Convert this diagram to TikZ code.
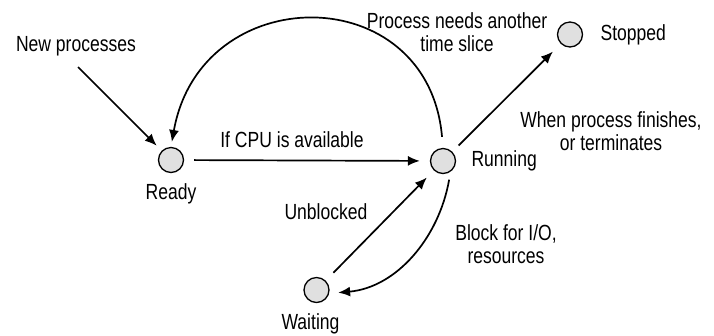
\documentclass[tikz,border=0pt]{standalone}
\usepackage{fontspec}
\setmainfont{Liberation Sans}[FakeStretch=0.8]
\usetikzlibrary{arrows.meta,positioning}
\tikzset{%
    >={Latex[width=5pt,length=6pt]},
    state/.style = {
        circle, draw=black, fill=black!12, minimum size=12.5bp,
        inner sep=0pt, line width=0.65bp
    },
    caption/.style = {font=\fontsize{11}{11.8}\selectfont, align=center, inner sep=2bp},
    link/.style = {->, line width=0.85bp},
}

\begin{document}
\begin{tikzpicture}[x=0.5bp, y=0.5bp]
    \useasboundingbox (0,0) rectangle (714,-335);

    % States
    \node (ready)   [state] at (171,-160)   {};
    \node (running) [state] at (443,-161)   {};
    \node (stopped) [state] at (570,-34.5)  {};
    \node (waiting) [state] at (316.5,-290) {};

    % State names
    \node (readyLbl)   [caption, below=3bp of ready]   {Ready};
    \node (runningLbl) [caption, right=5.5bp of running] {Running};
    \node (stoppedLbl) [caption, right=6.5bp of stopped] {Stopped};
    \node (waitingLbl) [caption, below=3bp of waiting, xshift=-3bp] {Waiting};

    % Transition texts
    \node (newLbl)     [caption] at (76,-46)   {New processes};
    \node (cpuLbl)     [caption] at (292,-140) {If CPU is available};
    \node (sliceLbl)   [caption] at (457,-32)  {Process needs another\\time slice};
    \node (finishLbl)  [caption] at (611,-131) {When process finishes,\\or terminates};
    \node (blockLbl)   [caption] at (506,-244) {Block for I/O,\\resources};
    \node (unblockLbl) [caption] at (326,-212) {Unblocked};

    \coordinate (newTail) at (78,-67);

    % Arrow specification
    \draw[link, shorten >=3.5bp]               (newTail) -- (ready);
    \draw[link, shorten <=5bp, shorten >=5bp]   (ready) -- (running);
    \draw[link, shorten <=4.4bp, shorten >=5.5bp] (running) -- (stopped);
    \draw[link, shorten <=5.5bp, shorten >=5bp] (waiting) -- (running);
    \draw[link, shorten <=5.5bp, shorten >=2.5bp]
        (running.north) to[out=95, in=80, looseness=1.6] (ready.north);
    \draw[link, shorten <=4bp, shorten >=4.5bp]
        (running.-55) to[out=-100, in=5] (waiting.-15);
\end{tikzpicture}
\end{document}
